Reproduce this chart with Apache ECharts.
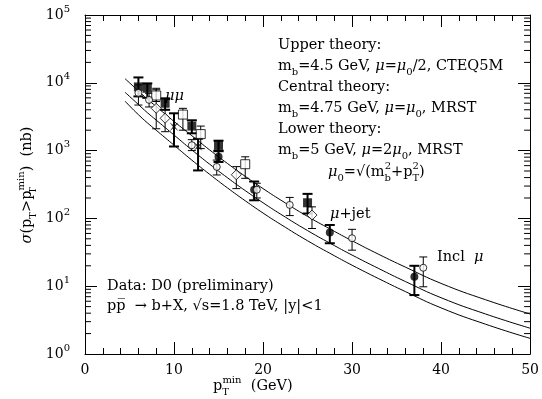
<!DOCTYPE html>
<html><head><meta charset="utf-8">
<script src="https://cdn.jsdelivr.net/npm/echarts@6/dist/echarts.min.js"></script>
<style>html,body{margin:0;padding:0;background:#fff}#c{width:542px;height:399px}</style>
</head><body><div id="c"></div>
<script>
// ---------- data ----------
const xTicks = [0, 10, 20, 30, 40, 50];
const yDecades = [1, 10, 100, 1000, 10000, 100000];

// theory curves
const thPt    = [4.5, 5, 6, 7, 8, 9, 10, 12, 14, 16, 18, 20, 22, 25, 28, 30, 33, 36, 40, 45, 50];
const thUpper = [11480, 10000, 7586, 5754, 4467, 3467, 2692, 1660, 1023, 646, 417, 275, 186, 107, 64.6, 46.8, 29.5, 19.1, 11.0, 6.31, 3.89];
const thCentral=[7244, 6310, 4786, 3631, 2818, 2188, 1698, 1023, 631, 398, 257, 170, 115, 66.1, 39.8, 28.8, 18.2, 11.7, 6.76, 3.89, 2.40];
const thLower = [5370, 4571, 3388, 2570, 1995, 1549, 1202, 724, 447, 282, 182, 120, 81.3, 46.8, 28.2, 20.4, 12.9, 8.32, 4.79, 2.75, 1.70];

// filled squares
const sqF_pt  = [6, 7, 9, 12, 15, 25];
const sqF_val = [8700, 8300, 5000, 2300, 1200, 170];
const sqF_lo  = [6300, 6000, 4000, 1800, 1000, 118];
const sqF_hi  = [12000, 9800, 5900, 2800, 1400, 230];
// open squares
const sqO_pt  = [8, 11, 13, 18];
const sqO_val = [6500, 3400, 1750, 630];
const sqO_lo  = [5300, 2000, 1070, 390];
const sqO_hi  = [7900, 4200, 2300, 810];
// open diamonds
const diO_pt  = [8, 9, 17, 25.5];
const diO_val = [4200, 3000, 440, 112];
const diO_lo  = [2100, 1900, 275, 71];
const diO_hi  = [8300, 4000, 580, 148];
// filled crosses
const xF_pt  = [10, 12.7];
const xF_val = [2250, 1150];
const xF_lo  = [1150, 510];
const xF_hi  = [3550, 1500];
// filled circles
const ciF_pt  = [15, 19, 27.5, 37];
const ciF_val = [810, 265, 62, 13.8];
const ciF_lo  = [680, 185, 43, 7.4];
const ciF_hi  = [980, 350, 80, 20];
// open circles
const ciO_pt  = [6, 7.2, 12, 14.8, 19.3, 23, 30, 38];
const ciO_val = [7100, 5600, 1200, 575, 265, 158, 51, 18.7];
const ciO_lo  = [4700, 4400, 1000, 437, 200, 110, 34, 9.8];
const ciO_hi  = [9300, 7000, 1450, 725, 330, 204, 69, 27];

// ---------- rendering ----------
const FONT = 'DejaVu Serif';
const FS = 14.5;
const SFS = 10;
const minorVals = [];
for (let d = 0; d < yDecades.length - 1; d++) for (let k = 2; k <= 9; k++) minorVals.push(yDecades[d] * k);

const chart = echarts.init(document.getElementById('c'), null, {renderer: 'canvas'});

const gRich = {
  n:  {fontFamily: FONT, fontSize: FS, lineHeight: 22, verticalAlign: 'middle', fill: '#000'},
  i:  {fontFamily: FONT, fontSize: FS, lineHeight: 22, verticalAlign: 'middle', fontStyle: 'italic', fill: '#000'},
  sb: {fontFamily: FONT, fontSize: SFS, verticalAlign: 'bottom', fill: '#000'},
  sb0:{fontFamily: FONT, fontSize: SFS, verticalAlign: 'bottom', fill: '#000', width: 0.1},
  sp: {fontFamily: FONT, fontSize: SFS, verticalAlign: 'top', fill: '#000'}
};
function T(x, y, text, rot) {
  const e = {type: 'text', x: x, y: y, style: {text: text, rich: gRich, fill: '#000', font: FS + 'px ' + FONT, textAlign: 'left', verticalAlign: 'middle'}, z: 100};
  if (rot) { e.rotation = rot; e.style.textAlign = 'center'; }
  return e;
}

function pts(p, v) { return p.map((x, i) => [x, v[i]]); }
function err(p, lo, hi, lw, cap) {
  return {
    type: 'custom', z: 3, silent: true, clip: false,
    data: p.map((x, i) => [x, lo[i], hi[i]]),
    encode: {x: 0, y: [1, 2]},
    renderItem: (params, api) => {
      const a = api.coord([api.value(0), api.value(1)]);
      const b = api.coord([api.value(0), api.value(2)]);
      const st = {stroke: '#000', lineWidth: lw};
      return {type: 'group', children: [
        {type: 'line', shape: {x1: a[0], y1: a[1], x2: b[0], y2: b[1]}, style: st},
        {type: 'line', shape: {x1: a[0] - cap, y1: a[1], x2: a[0] + cap, y2: a[1]}, style: st},
        {type: 'line', shape: {x1: b[0] - cap, y1: b[1], x2: b[0] + cap, y2: b[1]}, style: st}
      ]};
    }
  };
}
function curve(v) {
  return {type: 'line', data: pts(thPt, v), showSymbol: false, smooth: true, z: 2, silent: true,
    lineStyle: {color: '#000', width: 1}};
}
const filled = {color: '#000'};
const open = {color: '#fff', borderColor: '#000', borderWidth: 1};

const xAxisBase = {
  type: 'value', min: 0, max: 50, interval: 10,
  axisLine: {show: true, onZero: false, lineStyle: {color: '#000', width: 1}},
  axisTick: {show: true, inside: true, length: 12, lineStyle: {color: '#000'}},
  minorTick: {show: true, splitNumber: 5, length: 6, lineStyle: {color: '#000'}},
  splitLine: {show: false}
};
const yAxisBase = {
  type: 'log', logBase: 10, min: 1, max: 100000,
  axisLine: {show: true, onZero: false, lineStyle: {color: '#000', width: 1}},
  axisTick: {show: true, inside: true, length: 12, lineStyle: {color: '#000'}},
  splitLine: {show: false}
};

chart.setOption({
  animation: false,
  backgroundColor: '#fff',
  grid: {left: 85, right: 11, top: 15, bottom: 45, containLabel: false},
  xAxis: [
    Object.assign({}, xAxisBase, {position: 'bottom',
      axisLabel: {show: true, margin: 9, color: '#000', fontFamily: FONT, fontSize: 14,
        formatter: v => xTicks.includes(v) ? String(v) : ''}}),
    Object.assign({}, xAxisBase, {position: 'top', axisLabel: {show: false}})
  ],
  yAxis: [
    Object.assign({}, yAxisBase, {position: 'left',
      axisLabel: {show: true, margin: 15, color: '#000',
        formatter: v => '{b|10}{p|' + Math.round(Math.log10(v)) + '}',
        rich: {
          b: {fontFamily: FONT, fontSize: 14, lineHeight: 22, verticalAlign: 'middle', color: '#000'},
          p: {fontFamily: FONT, fontSize: 10, verticalAlign: 'top', color: '#000'}
        }}}),
    Object.assign({}, yAxisBase, {position: 'right', axisLabel: {show: false}})
  ],
  series: [
    {
      type: 'custom', silent: true, clip: false, z: 1,
      data: minorVals.map(v => [0, v]),
      renderItem: (params, api) => {
        const v = api.value(1);
        const l = api.coord([0, v]);
        const r = api.coord([50, v]);
        const st = {stroke: '#000', lineWidth: 1};
        return {type: 'group', children: [
          {type: 'line', shape: {x1: l[0], y1: l[1], x2: l[0] + 6, y2: l[1]}, style: st},
          {type: 'line', shape: {x1: r[0] - 6, y1: r[1], x2: r[0], y2: r[1]}, style: st}
        ]};
      }
    },
    curve(thUpper), curve(thCentral), curve(thLower),
    err(sqF_pt, sqF_lo, sqF_hi, 2, 5),
    err(xF_pt, xF_lo, xF_hi, 2, 5),
    err(ciF_pt, ciF_lo, ciF_hi, 2, 5),
    err(sqO_pt, sqO_lo, sqO_hi, 1, 4),
    err(diO_pt, diO_lo, diO_hi, 1, 4),
    err(ciO_pt, ciO_lo, ciO_hi, 1, 4),
    {type: 'scatter', data: pts(sqF_pt, sqF_val), symbol: 'rect', symbolSize: 9, itemStyle: filled, z: 5, silent: true},
    {type: 'scatter', data: pts(xF_pt, xF_val), symbol: 'path://M0,0L4,3L8,0L5,4L8,8L4,5L0,8L3,4Z', symbolSize: 9, itemStyle: filled, z: 5, silent: true},
    {type: 'scatter', data: pts(ciF_pt, ciF_val), symbol: 'circle', symbolSize: 8, itemStyle: filled, z: 5, silent: true},
    {type: 'scatter', data: pts(sqO_pt, sqO_val), symbol: 'rect', symbolSize: 9, itemStyle: open, z: 5, silent: true},
    {type: 'scatter', data: pts(diO_pt, diO_val), symbol: 'diamond', symbolSize: 10, itemStyle: open, z: 5, silent: true},
    {type: 'scatter', data: pts(ciO_pt, ciO_val), symbol: 'circle', symbolSize: 7, itemStyle: open, z: 5, silent: true}
  ],
  graphic: [
    T(278, 45, '{n|Upper theory:}'),
    T(278, 66, '{n|m}{sb|b}{n|=4.5 GeV, }{i|μ}{n|=}{i|μ}{sb|0}{n|/2, CTEQ5M}'),
    T(278, 87, '{n|Central theory:}'),
    T(278, 108, '{n|m}{sb|b}{n|=4.75 GeV, }{i|μ}{n|=}{i|μ}{sb|0}{n|, MRST}'),
    T(278, 129, '{n|Lower theory:}'),
    T(278, 150, '{n|m}{sb|b}{n|=5 GeV, }{i|μ}{n|=2}{i|μ}{sb|0}{n|, MRST}'),
    T(328, 172, '{i|μ}{sb|0}{n|=√(m}{sb0|b}{sp|2}{n|+p}{sb0|T}{sp|2}{n|)}'),
    T(107, 286, '{n|Data: D0 (preliminary)}'),
    T(107, 306, '{n|pp\u0305  → b+X, √s=1.8 TeV, |y|<1}'),
    T(165, 96, '{i|μμ}'),
    T(330, 214, '{i|μ}{n|+jet}'),
    T(437, 257, '{n|Incl  }{i|μ}'),
    T(213, 386, '{n|p}{sb0|T}{sp|min}{n|  (GeV)}'),
    T(27, 185, '{i|σ}{n|(p}{sb|T}{n|>p}{sb0|T}{sp|min}{n|)  (nb)}', Math.PI / 2)
  ]
});
</script>
</body></html>
